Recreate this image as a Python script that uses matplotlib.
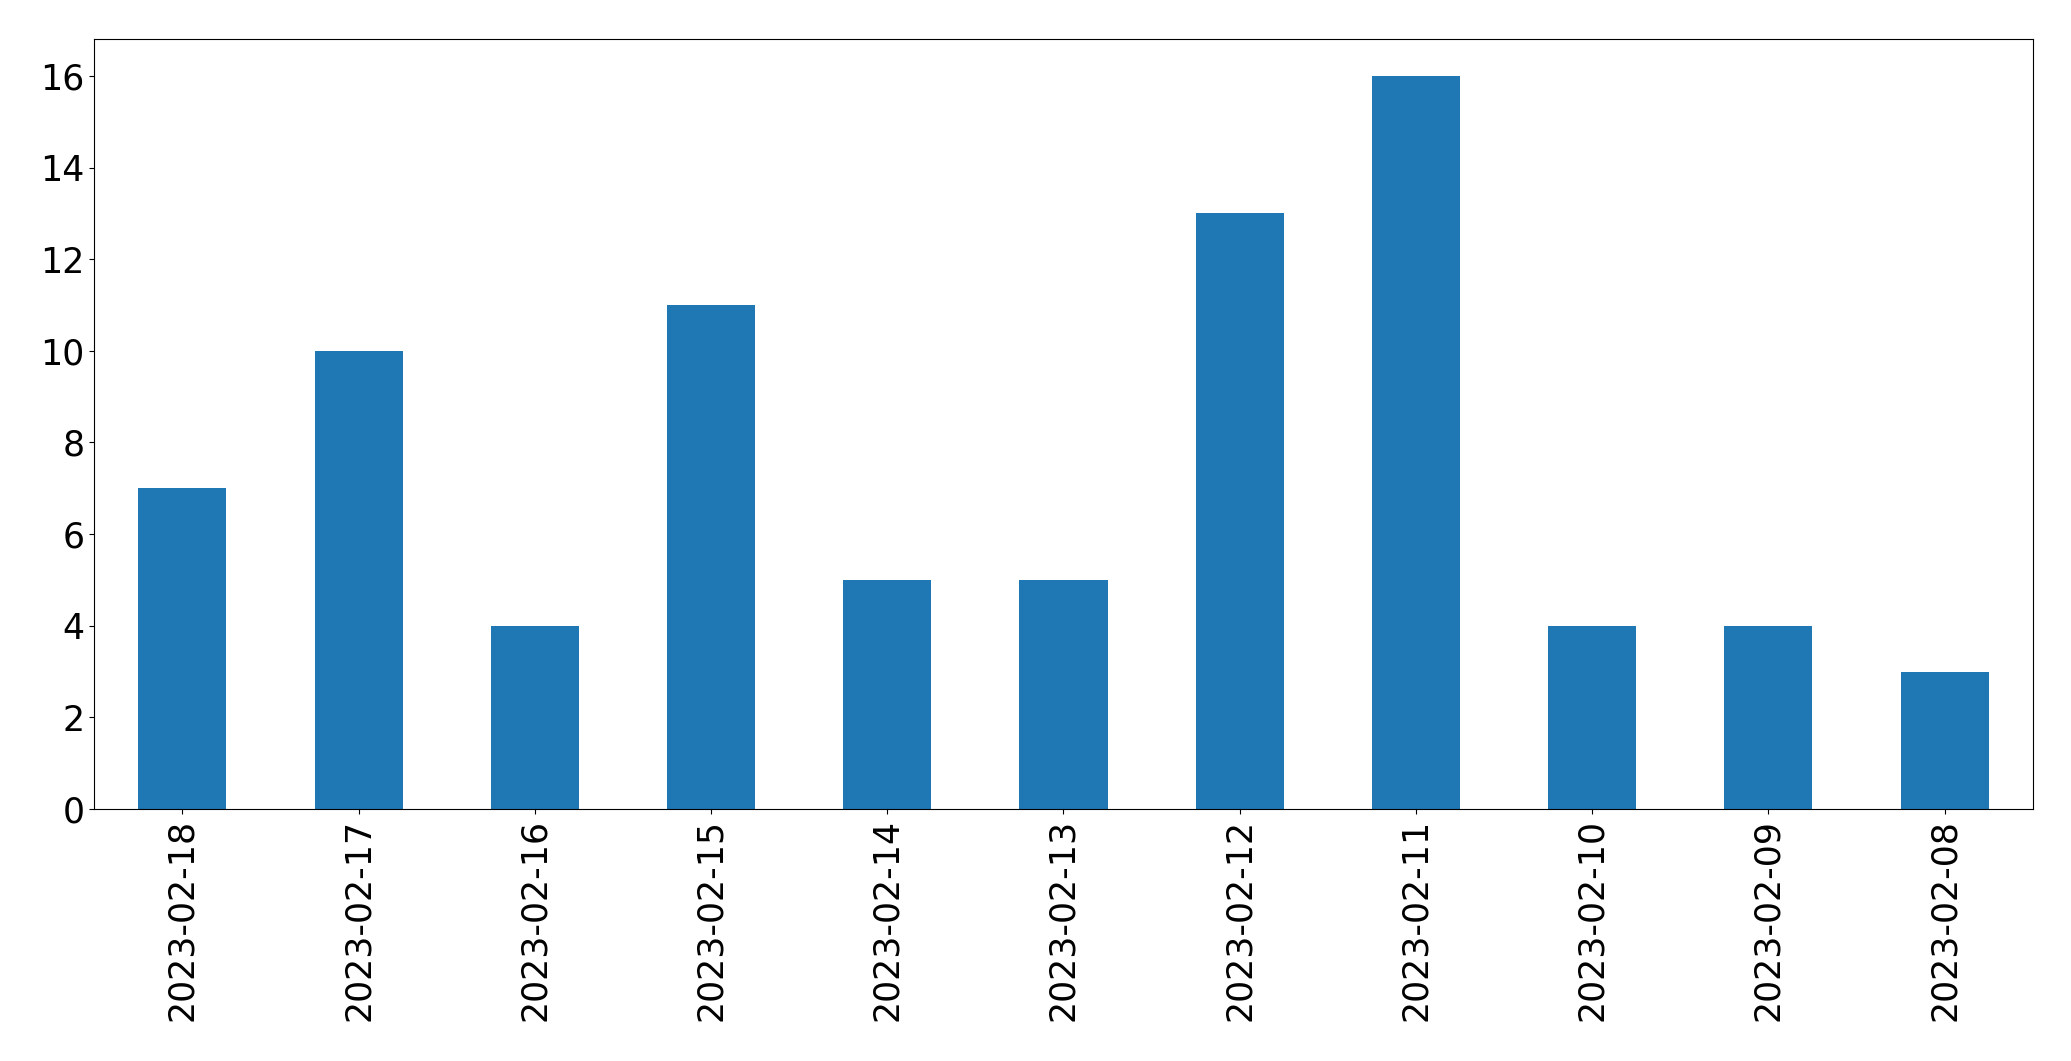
import matplotlib
matplotlib.use("Agg")
import matplotlib.pyplot as plt
import pandas as pd

# Daily counts, newest first (as in the original)
dates = ["2023-02-18", "2023-02-17", "2023-02-16", "2023-02-15", "2023-02-14",
         "2023-02-13", "2023-02-12", "2023-02-11", "2023-02-10", "2023-02-09",
         "2023-02-08"]
counts = [7, 10, 4, 11, 5, 5, 13, 16, 4, 4, 3]

s = pd.Series(counts, index=dates)

fig, ax = plt.subplots(figsize=(20.71, 10.61), dpi=100)
s.plot(kind="bar", ax=ax, color="#1f77b4", fontsize=25)
ax.tick_params(axis="x", labelrotation=90)

fig.subplots_adjust(left=0.0455, right=0.9815, top=0.963, bottom=0.2375)
fig.savefig("out.png", dpi=100)
